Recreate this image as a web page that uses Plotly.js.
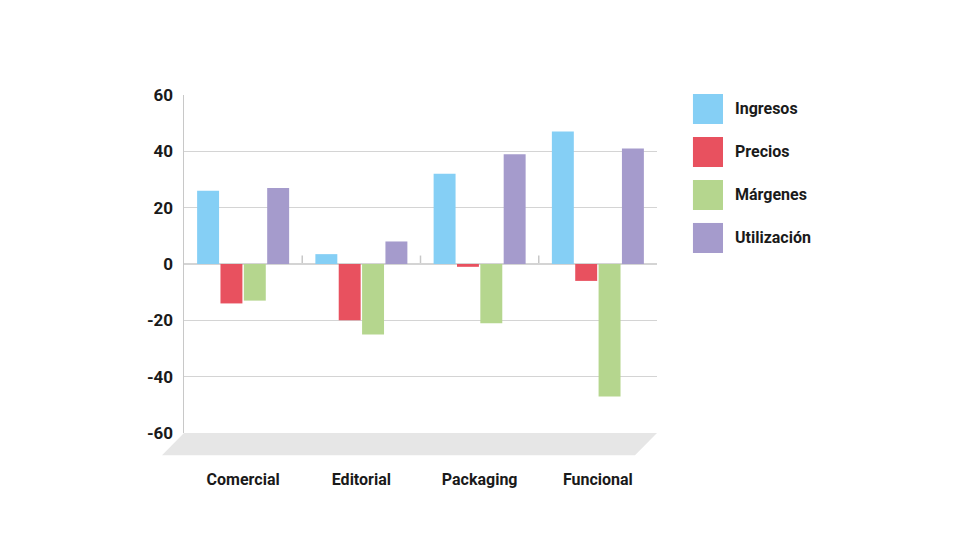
<!DOCTYPE html>
<html>
<head>
<meta charset="utf-8">
<script src="https://cdn.plot.ly/plotly-3.0.1.min.js"></script>
<style>html,body{margin:0;padding:0;background:#fff;}#chart{width:980px;height:560px;}</style>
</head>
<body>
<div id="chart"></div>
<script>
const categories = ["Comercial", "Editorial", "Packaging", "Funcional"];
const seriesNames = ["Ingresos", "Precios", "Márgenes", "Utilización"];
const ingresos = [26, 3.5, 32, 47];
const precios = [-14, -20, -1, -6];
const margenes = [-13, -25, -21, -47];
const utilizacion = [27, 8, 39, 41];
const yTicks = [-60, -40, -20, 0, 20, 40, 60];

const colors = ["#85cff5", "#e8515f", "#b5d68e", "#a59bcc"];
const values = [ingresos, precios, margenes, utilizacion];
const FONT = "Roboto, 'Noto Sans', sans-serif";

const traces = seriesNames.map((name, i) => ({
  type: "bar",
  name: name,
  x: categories,
  y: values[i],
  marker: {color: colors[i], line: {width: 0}},
  showlegend: false,
  hoverinfo: "x+y+name"
}));

const shapes = [];
shapes.push({
  type: "path", xref: "paper", yref: "paper", layer: "below",
  path: "M 0 0 L 1 0 L 0.9535 -0.066 L -0.0465 -0.066 Z",
  fillcolor: "#e6e6e6", line: {width: 0}
});
for (let i = 0; i < categories.length - 1; i++) {
  shapes.push({
    type: "line", xref: "x", yref: "y", x0: i + 0.5, x1: i + 0.5, y0: 0, y1: 3,
    line: {color: "#c8c8c8", width: 1.5}, layer: "below"
  });
}
const annotations = [];
const legX0 = 1.076, legX1 = 1.1395, legTop = 1.003, legSize = 0.0888, legStep = 0.1272;
seriesNames.forEach((name, i) => {
  const top = legTop - i * legStep;
  shapes.push({
    type: "rect", xref: "paper", yref: "paper",
    x0: legX0, x1: legX1, y0: top - legSize, y1: top,
    fillcolor: colors[i], line: {width: 0}
  });
  annotations.push({
    xref: "paper", yref: "paper", x: 1.16, y: top - legSize / 2,
    xanchor: "left", yanchor: "middle", showarrow: false, text: name,
    font: {family: FONT, size: 16, color: "#1a1a1a", weight: "bold"}
  });
});

const layout = {
  width: 980, height: 560,
  margin: {l: 184, r: 323, t: 95, b: 127},
  paper_bgcolor: "#ffffff", plot_bgcolor: "rgba(0,0,0,0)",
  barmode: "group", bargap: 0.21, bargroupgap: 0.06,
  showlegend: false,
  font: {family: FONT, size: 16, color: "#1a1a1a", weight: "bold"},
  xaxis: {
    type: "category", showgrid: false, showline: false, zeroline: false,
    ticks: "", ticklabelstandoff: 35,
    tickfont: {family: FONT, size: 16, color: "#1a1a1a", weight: "bold"}
  },
  yaxis: {
    range: [-60, 60], tickvals: yTicks, ticktext: yTicks.map(String),
    showgrid: true, gridcolor: "#d4d4d4", gridwidth: 1.5,
    zeroline: true, zerolinecolor: "#d4d4d4", zerolinewidth: 1.5,
    showline: true, linecolor: "#c8c8c8", linewidth: 1.5,
    ticks: "", ticklabelstandoff: 6,
    tickfont: {family: FONT, size: 17, color: "#1a1a1a", weight: "bold"}
  },
  shapes: shapes,
  annotations: annotations
};

Plotly.newPlot("chart", traces, layout, {displayModeBar: false, staticPlot: true});
</script>
</body>
</html>
